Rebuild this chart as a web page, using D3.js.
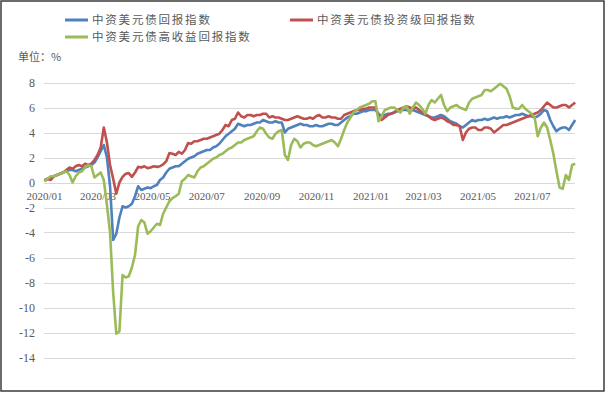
<!DOCTYPE html>
<html>
<head>
<meta charset="utf-8">
<script src="https://cdn.jsdelivr.net/npm/d3@7"></script>
<style>
  body { margin: 0; background: #fff; }
  svg { display: block; }
</style>
</head>
<body>
<div id="wrapper"></div>
<script>
// chart data (one value every ~3.5 days)
const seriesNames = ["中资美元债回报指数", "中资美元债投资级回报指数", "中资美元债高收益回报指数"];
const seriesColors = ["#4f81bd", "#c0504d", "#9bbb59"];

const startDate = Date.UTC(2020, 0, 1);
const endDate = Date.UTC(2021, 7, 18);
const stepHours = 84;

const totalIdx = [
  0.2, 0.3, 0.3, 0.5, 0.6, 0.7, 0.8, 0.9, 1.0, 1.0,
  0.9, 1.0, 1.1, 1.2, 1.3, 1.4, 1.6, 2.0, 2.5, 3.0,
  2.0, -0.3, -4.6, -4.1, -2.8, -1.9, -2.0, -1.9, -1.7, -1.1,
  -0.3, -0.6, -0.5, -0.4, -0.45, -0.3, -0.2, 0.2, 0.4, 0.8,
  1.1, 1.2, 1.3, 1.3, 1.5, 1.7, 1.9, 2.0, 2.1, 2.3,
  2.4, 2.5, 2.6, 2.6, 2.8, 2.9, 3.1, 3.4, 3.7, 3.9,
  4.1, 4.3, 4.7, 4.6, 4.5, 4.6, 4.6, 4.7, 4.8, 4.8,
  5.0, 4.9, 4.8, 4.8, 4.9, 4.8, 4.8, 4.0, 4.3, 4.4,
  4.5, 4.6, 4.7, 4.6, 4.6, 4.5, 4.5, 4.6, 4.5, 4.5,
  4.6, 4.7, 4.7, 4.6, 4.6, 4.8, 5.0, 5.2, 5.3, 5.5,
  5.5, 5.6, 5.7, 5.7, 5.8, 5.8, 5.8, 5.5, 5.3, 5.4,
  5.5, 5.5, 5.6, 5.7, 5.8, 5.8, 5.8, 5.7, 5.8, 5.7,
  5.6, 5.5, 5.4, 5.3, 5.2, 5.2, 5.3, 5.4, 5.3, 5.1,
  4.9, 4.8, 4.7, 4.5, 4.4, 4.6, 4.8, 5.0, 4.9, 5.0,
  5.0, 5.1, 5.0, 5.1, 5.2, 5.1, 5.2, 5.2, 5.3, 5.2,
  5.3, 5.4, 5.4, 5.5, 5.4, 5.3, 5.3, 5.2, 5.3, 5.5,
  5.8, 5.7, 5.0, 4.5, 4.1, 4.3, 4.4, 4.4, 4.2, 4.6, 5.0
];

const igIdx = [
  0.1, 0.3, 0.2, 0.5, 0.6, 0.7, 0.8, 1.0, 1.2, 1.1,
  1.3, 1.4, 1.3, 1.5, 1.4, 1.5, 1.8, 2.2, 2.8, 4.4,
  3.2, 1.4, 0.3, -0.9, 0.0, 0.45, 0.7, 0.75, 0.45, 0.8,
  1.25, 1.2, 1.3, 1.15, 1.2, 1.3, 1.25, 1.3, 1.45, 1.7,
  2.35, 2.3, 2.2, 2.45, 2.3, 2.6, 3.15, 3.1, 3.3, 3.3,
  3.4, 3.5, 3.5, 3.6, 3.7, 3.8, 3.9, 4.2, 4.6, 4.5,
  5.0, 5.1, 5.6, 5.3, 5.2, 5.4, 5.4, 5.3, 5.4, 5.4,
  5.5, 5.5, 5.2, 5.3, 5.2, 5.2, 5.1, 5.0, 5.0, 5.1,
  5.2, 5.3, 5.2, 5.1, 5.1, 5.2, 5.1, 5.3, 5.4, 5.2,
  5.2, 5.3, 5.2, 5.2, 5.1, 5.1, 5.4, 5.5, 5.6, 5.7,
  5.8, 5.8, 5.9, 5.9, 6.0, 6.0, 6.0, 5.4, 5.0, 5.2,
  5.4, 5.5, 5.6, 5.8, 5.9, 6.0, 6.1, 6.0, 5.9, 6.0,
  5.8, 5.6, 5.5, 5.3, 5.1, 5.0, 5.1, 5.2, 5.1, 4.9,
  4.8, 4.6, 4.6, 4.5, 3.4, 4.0, 4.3, 4.4, 4.4, 4.2,
  4.2, 4.4, 4.4, 4.3, 4.0, 4.2, 4.4, 4.6, 4.6, 4.7,
  4.8, 4.9, 5.0, 5.1, 5.2, 5.3, 5.4, 5.5, 5.6, 5.8,
  6.1, 6.4, 6.2, 6.0, 6.0, 6.1, 6.2, 6.2, 6.0, 6.2, 6.4
];

const hyIdx = [
  0.1, 0.3, 0.5, 0.5, 0.6, 0.7, 0.8, 0.9, 0.6, 0.0,
  0.5, 0.8, 0.9, 1.2, 1.4, 1.3, 0.4, 0.6, 0.8, 0.2,
  -1.8, -4.0, -8.8, -12.1, -11.9, -7.4, -7.6, -7.5, -6.8, -5.8,
  -3.5, -3.0, -3.2, -4.1, -3.9, -3.6, -3.3, -3.4, -2.5, -2.0,
  -1.5, -1.25, -1.1, -0.9, 0.1, 0.3, 0.6, 0.5, 0.4, 0.9,
  1.2, 1.3, 1.5, 1.7, 1.9, 2.0, 2.2, 2.3, 2.5, 2.7,
  2.8, 3.0, 3.2, 3.2, 3.4, 3.5, 3.6, 3.7, 4.1, 4.4,
  4.3, 3.9, 3.6, 3.5, 3.9, 4.1, 4.2, 2.2, 1.8, 3.0,
  3.5, 3.3, 2.8, 3.1, 3.2, 3.2, 3.0, 2.9, 3.0, 3.1,
  3.2, 3.3, 3.4, 3.2, 2.9, 3.5, 4.2, 4.8, 5.2, 5.6,
  5.8, 6.0, 6.1, 6.2, 6.3, 6.5, 6.5, 4.9, 5.3, 5.8,
  5.9, 6.0, 6.0, 5.8, 5.6, 6.0, 6.1, 5.5, 6.0, 6.4,
  6.2, 5.9, 5.5, 6.2, 6.6, 6.4, 6.7, 7.0, 6.2, 5.7,
  6.0, 6.1, 6.2, 6.0, 5.9, 5.8, 6.4, 6.7, 6.8, 6.9,
  7.0, 7.4, 7.4, 7.3, 7.5, 7.7, 7.9, 7.7, 7.5, 6.9,
  6.0, 5.9, 5.9, 6.2, 5.9, 5.7, 5.5, 5.2, 3.7, 4.4,
  4.8, 4.4, 3.4, 2.3, 0.9, -0.4, -0.5, 0.6, 0.2, 1.4, 1.5
];

const yTicks = [-14, -12, -10, -8, -6, -4, -2, 0, 2, 4, 6, 8];

// window size
const width = 607;
const height = 393;

const svg = d3.select("#wrapper")
              .append("svg")
              .attr("width", width)
              .attr("height", height);

// outer frame
svg.append("rect")
   .attr("x", 1)
   .attr("y", 1)
   .attr("width", 603)
   .attr("height", 390)
   .style("fill", "#fff")
   .style("stroke", "#3c3c3c")
   .style("stroke-width", 1.5);

const x = d3.scaleUtc()
            .domain([new Date(startDate), new Date(endDate)])
            .range([44.5, 575.2]);

const y = d3.scaleLinear()
            .domain([-14, 8])
            .range([357.5, 82.5]);

const dates = totalIdx.map((d, i) => d3.utcHour.offset(new Date(startDate), stepHours * i));

// gridlines
svg.append("g")
   .selectAll("line")
   .data(yTicks)
   .enter()
   .append("line")
     .attr("x1", 44)
     .attr("x2", 575)
     .attr("y1", d => Math.round(y(d)) + 0.5)
     .attr("y2", d => Math.round(y(d)) + 0.5)
     .style("stroke", "#d9d9d9")
     .style("stroke-width", 1);

// y labels
svg.append("g")
   .selectAll("text")
   .data(yTicks)
   .enter()
   .append("text")
     .attr("x", 35)
     .attr("y", d => y(d) + 4)
     .attr("text-anchor", "end")
     .style("font-family", "'Liberation Serif', 'DejaVu Serif', serif")
     .style("font-size", "12px")
     .style("fill", "#595959")
     .text(d => d);

// x labels, drawn just under the zero line
svg.append("g")
   .selectAll("text")
   .data(x.ticks(d3.utcMonth.every(2)))
   .enter()
   .append("text")
     .attr("x", d => x(d))
     .attr("y", 200)
     .attr("text-anchor", "middle")
     .style("font-family", "'Liberation Serif', 'DejaVu Serif', serif")
     .style("font-size", "11px")
     .style("fill", "#595959")
     .text(d => d3.utcFormat("%Y/%m")(d));

// unit label
svg.append("text")
   .attr("x", 18)
   .attr("y", 61)
   .style("font-family", "'Noto Sans CJK SC', sans-serif")
   .style("font-size", "11px")
   .style("fill", "#595959")
   .text("单位：%");

// the three lines
const line = d3.line()
               .x((d, i) => x(dates[i]))
               .y(d => y(d));

[totalIdx, igIdx, hyIdx].forEach(function(values, k) {
  svg.append("path")
     .datum(values)
     .attr("d", line)
     .style("fill", "none")
     .style("stroke", seriesColors[k])
     .style("stroke-width", 2.6)
     .style("stroke-linejoin", "round");
});

// legend
const legendPos = [[65, 20], [290, 20], [65, 37]];

const legend = svg.selectAll(".legend")
                  .data(seriesNames)
                  .enter()
                  .append("g")
                  .attr("class", "legend")
                  .attr("transform", (d, i) => "translate(" + legendPos[i] + ")");

legend.append("line")
      .attr("x1", 0)
      .attr("x2", 23)
      .style("stroke", (d, i) => seriesColors[i])
      .style("stroke-width", 3);

legend.append("text")
      .attr("x", 27)
      .attr("y", 4)
      .style("font-family", "'Noto Sans CJK SC', sans-serif")
      .style("font-size", "11.5px")
      .style("letter-spacing", "1.8px")
      .style("fill", "#595959")
      .text(d => d);
</script>
</body>
</html>
